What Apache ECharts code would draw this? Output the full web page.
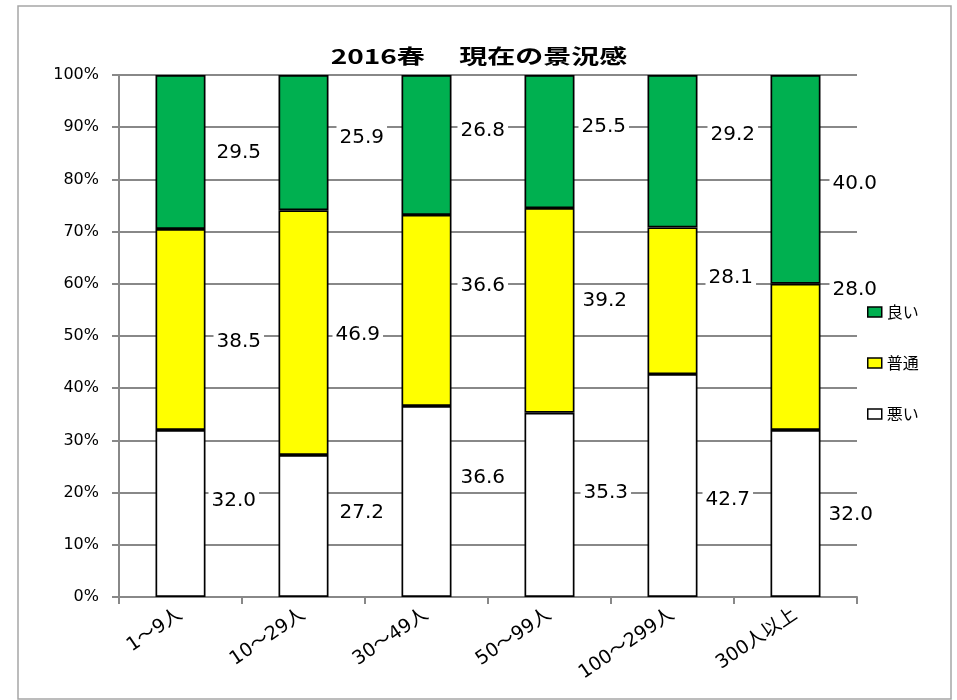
<!DOCTYPE html>
<html>
<head>
<meta charset="utf-8">
<script src="https://cdn.jsdelivr.net/npm/echarts@6/dist/echarts.min.js"></script>
<style>html,body{margin:0;padding:0;background:#fff;}#c{width:957px;height:700px;}</style>
</head>
<body>
<div id="c"></div>
<script>
var titleText = '2016春　 現在の景況感';
var categories = ['1～9人', '10～29人', '30～49人', '50～99人', '100～299人', '300人以上'];
var bad = [32.0, 27.2, 36.6, 35.3, 42.7, 32.0];
var normal = [38.5, 46.9, 36.6, 39.2, 28.1, 28.0];
var good = [29.5, 25.9, 26.8, 25.5, 29.2, 40.0];
var yTicks = [0, 10, 20, 30, 40, 50, 60, 70, 80, 90, 100];

// label nudges (style only), [dx, dy] per bar
var badLabelShift = [[-2, -13], [3, -13], [1, -24], [1, -12], [0, 14], [0, 1]];
var normalLabelShift = [[3, 12], [-1, 2], [1, -25], [0, -10], [3, -23], [4, -67]];
var goodLabelShift = [[3, 1], [3, -5], [1, -14], [-1, -15], [5, -16], [4, 4]];

var FONT = "'DejaVu Sans', 'Noto Sans CJK JP', sans-serif";
var colors = { '悪い': '#FFFFFF', '普通': '#FFFF00', '良い': '#00B050' };

function buildData(vals, shifts) {
  return vals.map(function (v, i) {
    return { value: v, label: { offset: shifts[i] } };
  });
}

function mkSeries(name, vals, shifts) {
  return {
    name: name,
    type: 'bar',
    stack: 'total',
    barWidth: 50,
    data: buildData(vals, shifts),
    itemStyle: { color: colors[name], borderColor: '#000', borderWidth: 1.7 },
    label: {
      show: true,
      position: 'right',
      distance: 5,
      formatter: function (p) { return p.value.toFixed(1); },
      color: '#000',
      fontSize: 20,
      fontFamily: FONT,
      backgroundColor: '#fff',
      padding: [2, 3]
    },
    emphasis: { disabled: true }
  };
}

var chart = echarts.init(document.getElementById('c'));
chart.setOption({
  animation: false,
  backgroundColor: '#fff',
  graphic: [{
    type: 'rect',
    shape: { x: 18, y: 6, width: 933, height: 693 },
    style: { fill: 'none', stroke: '#a6a6a6', lineWidth: 1.5 },
    silent: true
  }, {
    type: 'text',
    x: 479,
    y: 56,
    scaleX: 1.4,
    silent: true,
    style: {
      text: titleText,
      fill: '#000',
      font: "bold 20px 'Noto Sans CJK JP', sans-serif",
      textAlign: 'center',
      textVerticalAlign: 'middle'
    }
  }],
  legend: {
    orient: 'vertical',
    left: 867,
    top: 304,
    padding: 0,
    itemGap: 35,
    itemWidth: 14,
    itemHeight: 10,
    icon: 'rect',
    data: ['良い', '普通', '悪い'],
    textStyle: { fontSize: 16, color: '#000', fontFamily: "'Noto Sans CJK JP', sans-serif" },
    itemStyle: { borderColor: '#000', borderWidth: 1.5 }
  },
  grid: { left: 119, right: 100, top: 75, bottom: 103, containLabel: false },
  xAxis: {
    type: 'category',
    data: categories,
    axisLine: { show: true, lineStyle: { color: '#888', width: 2 } },
    axisTick: { show: true, length: 7, alignWithLabel: false, lineStyle: { color: '#888', width: 2 } },
    axisLabel: { interval: 0, rotate: 34, margin: 16, fontSize: 19, color: '#000', fontFamily: FONT }
  },
  yAxis: {
    type: 'value',
    min: yTicks[0],
    max: yTicks[yTicks.length - 1],
    interval: yTicks[1] - yTicks[0],
    axisLine: { show: true, lineStyle: { color: '#888', width: 2 } },
    axisTick: { show: true, length: 7, lineStyle: { color: '#888', width: 2 } },
    splitLine: { show: true, lineStyle: { color: '#888', width: 2 } },
    axisLabel: { formatter: '{value}%', fontSize: 16, color: '#000', margin: 20, fontFamily: FONT }
  },
  series: [
    mkSeries('悪い', bad, badLabelShift),
    mkSeries('普通', normal, normalLabelShift),
    mkSeries('良い', good, goodLabelShift)
  ]
});
</script>
</body>
</html>
